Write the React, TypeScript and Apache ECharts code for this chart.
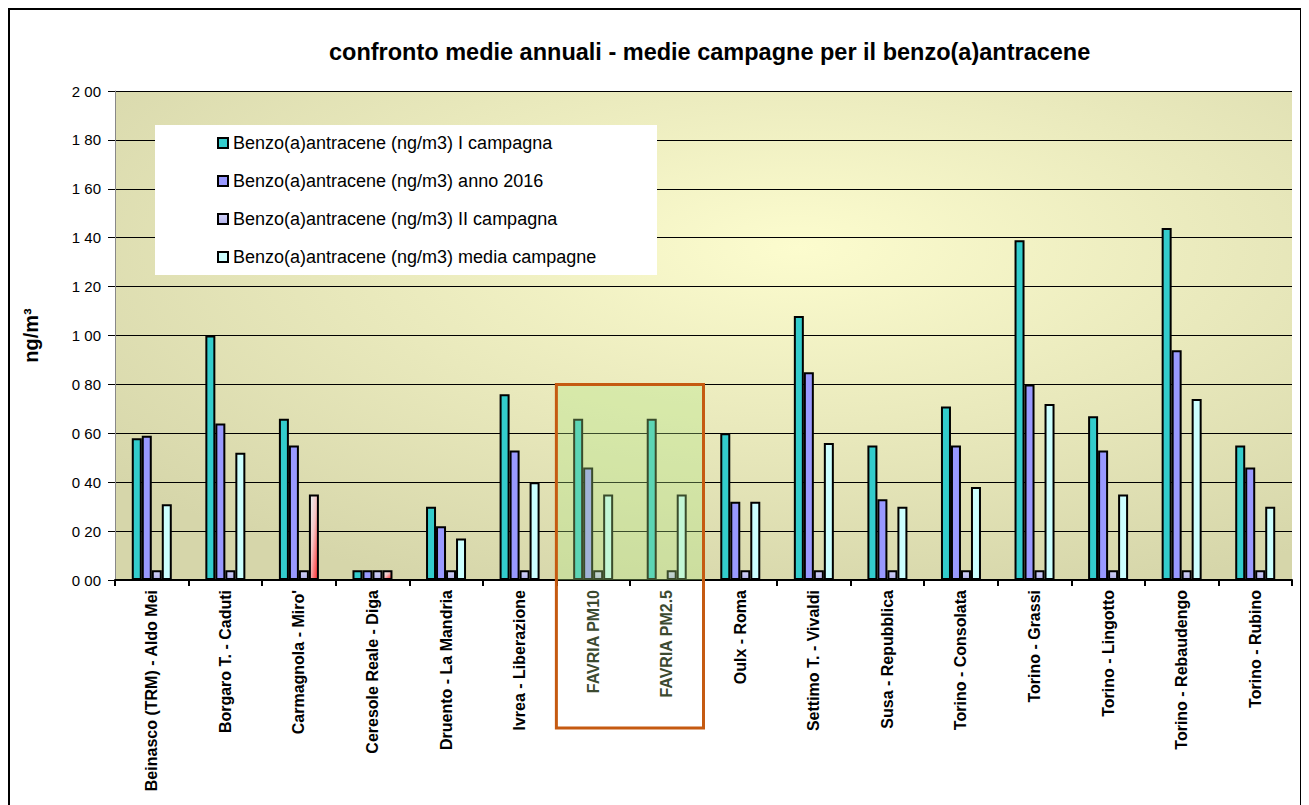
import React, { useEffect, useRef } from 'react';
import * as echarts from 'echarts';

const categories = [
  'Beinasco (TRM) - Aldo Mei',
  'Borgaro T. - Caduti',
  "Carmagnola - Miro'",
  'Ceresole Reale - Diga',
  'Druento - La Mandria',
  'Ivrea - Liberazione',
  'FAVRIA PM10',
  'FAVRIA PM2.5',
  'Oulx - Roma',
  'Settimo T. - Vivaldi',
  'Susa - Repubblica',
  'Torino - Consolata',
  'Torino - Grassi',
  'Torino - Lingotto',
  'Torino - Rebaudengo',
  'Torino - Rubino',
];

const seriesNames = [
  'Benzo(a)antracene (ng/m3) I campagna',
  'Benzo(a)antracene (ng/m3) anno 2016',
  'Benzo(a)antracene (ng/m3) II campagna',
  'Benzo(a)antracene (ng/m3) media campagne',
];

const campagnaI = [0.58, 1.0, 0.66, 0.04, 0.3, 0.76, 0.66, 0.66, 0.6, 1.08, 0.55, 0.71, 1.39, 0.67, 1.44, 0.55];
const anno2016 = [0.59, 0.64, 0.55, 0.04, 0.22, 0.53, 0.46, null, 0.32, 0.85, 0.33, 0.55, 0.8, 0.53, 0.94, 0.46];
const campagnaII = [0.04, 0.04, 0.04, 0.04, 0.04, 0.04, 0.04, 0.04, 0.04, 0.04, 0.04, 0.04, 0.04, 0.04, 0.04, 0.04];
const mediaCampagne = [0.31, 0.52, 0.35, 0.04, 0.17, 0.4, 0.35, 0.35, 0.32, 0.56, 0.3, 0.38, 0.72, 0.35, 0.74, 0.3];

const redBarCategories = ["Carmagnola - Miro'", 'Ceresole Reale - Diga'];
const highlightCategories = ['FAVRIA PM10', 'FAVRIA PM2.5'];
const highlightTop = 0.8;

const titleText = 'confronto medie annuali - medie campagne per il benzo(a)antracene';
const yAxisName = 'ng/m³';

export default function App() {
  const ref = useRef<HTMLDivElement>(null);

  useEffect(() => {
    const chart = echarts.init(ref.current!, null, { renderer: 'svg' });
    const font = 'Arial, "Liberation Sans", sans-serif';

    const redGrad = new echarts.graphic.LinearGradient(0, 0, 1, 1, [
      { offset: 0, color: '#E6F6F6' },
      { offset: 0.45, color: '#F6C4C4' },
      { offset: 1, color: '#FF2222' },
    ]);
    const lavGrad = new echarts.graphic.LinearGradient(0, 0, 0, 1, [
      { offset: 0, color: '#D4D4FA' },
      { offset: 1, color: '#B4B4EC' },
    ]);

    const mediaData = mediaCampagne.map((v, i) =>
      redBarCategories.includes(categories[i]) ? { value: v, itemStyle: { color: redGrad } } : v
    );

    const barBase = {
      type: 'bar',
      barWidth: 10,
      barGap: '0%',
      itemStyle: { borderColor: '#000', borderWidth: 2 },
    };

    chart.setOption({
      animation: false,
      title: {
        text: titleText,
        left: 319,
        top: 30,
        padding: 0,
        textStyle: { fontFamily: font, fontSize: 23.5, fontWeight: 'bold', color: '#000' },
      },
      legend: {
        orient: 'vertical',
        left: 202,
        top: 119,
        itemGap: 20,
        itemWidth: 10,
        itemHeight: 10,
        icon: 'rect',
        textStyle: { fontFamily: font, fontSize: 18, color: '#000' },
        data: seriesNames,
      },
      grid: {
        left: 105,
        top: 81,
        width: 1177,
        height: 489,
        show: true,
        borderWidth: 0,
        backgroundColor: new echarts.graphic.RadialGradient(0.58, 0.32, 0.75, [
          { offset: 0, color: '#FCFCCE' },
          { offset: 1, color: '#D6D6AA' },
        ]),
      },
      xAxis: {
        type: 'category',
        data: categories,
        axisLine: { lineStyle: { color: '#000', width: 2 } },
        axisTick: { show: true, length: 6, lineStyle: { color: '#000', width: 2 } },
        axisLabel: {
          rotate: 90,
          margin: 10,
          interval: 0,
          fontFamily: font,
          fontSize: 16,
          fontWeight: 'bold',
          color: (value: string) => (highlightCategories.includes(value) ? '#3C4A30' : '#000'),
        },
      },
      yAxis: {
        type: 'value',
        min: 0,
        max: 2,
        interval: 0.2,
        name: yAxisName,
        nameLocation: 'middle',
        nameGap: 74,
        nameTextStyle: { fontFamily: font, fontSize: 20, fontWeight: 'bold', color: '#000' },
        axisLine: { show: true, lineStyle: { color: '#888', width: 1 } },
        axisTick: { show: true, length: 7, lineStyle: { color: '#000' } },
        axisLabel: {
          margin: 14,
          fontFamily: font,
          fontSize: 15,
          color: '#000',
          formatter: (v: number) => v.toFixed(2).replace('.', ' '),
        },
        splitLine: { show: true, lineStyle: { color: '#000', width: 1 } },
      },
      series: [
        { ...barBase, name: seriesNames[0], data: campagnaI, itemStyle: { ...barBase.itemStyle, color: '#33CCCC' } },
        { ...barBase, name: seriesNames[1], data: anno2016, itemStyle: { ...barBase.itemStyle, color: '#9999FF' } },
        { ...barBase, name: seriesNames[2], data: campagnaII, itemStyle: { ...barBase.itemStyle, color: lavGrad } },
        { ...barBase, name: seriesNames[3], data: mediaData, itemStyle: { ...barBase.itemStyle, color: '#CCFFFF' } },
      ],
    });

    // Annotation elements placed from the axes' own scales
    const i0 = categories.indexOf(highlightCategories[0]);
    const i1 = categories.indexOf(highlightCategories[1]);
    const c0 = chart.convertToPixel({ xAxisIndex: 0 }, i0) as number;
    const c1 = chart.convertToPixel({ xAxisIndex: 0 }, i1) as number;
    const band = c1 - c0;
    const bx0 = c0 - band / 2;
    const bx1 = c1 + band / 2;
    const by0 = chart.convertToPixel({ yAxisIndex: 0 }, highlightTop) as number;
    const by1 = chart.convertToPixel({ yAxisIndex: 0 }, 0) as number;

    chart.setOption({
      graphic: [
        {
          type: 'rect',
          z: 3,
          shape: { x: 145, y: 115, width: 502, height: 150 },
          style: { fill: '#FFFFFF' },
        },
        {
          type: 'rect',
          z: 10,
          shape: { x: bx0, y: by0, width: bx1 - bx0, height: by1 - by0 },
          style: { fill: 'rgba(175,230,130,0.33)' },
        },
        {
          type: 'rect',
          z: 11,
          shape: { x: bx0, y: by0, width: bx1 - bx0, height: by1 - by0 + 148 },
          style: { fill: 'none', stroke: '#C55A11', lineWidth: 3 },
        },
      ],
    });

    return () => chart.dispose();
  }, []);

  return (
    <div
      ref={ref}
      style={{
        width: 1294,
        height: 797,
        borderLeft: '2px solid #000',
        borderTop: '2px solid #000',
        borderRight: '2px solid #000',
        boxSizing: 'border-box',
      }}
    />
  );
}
